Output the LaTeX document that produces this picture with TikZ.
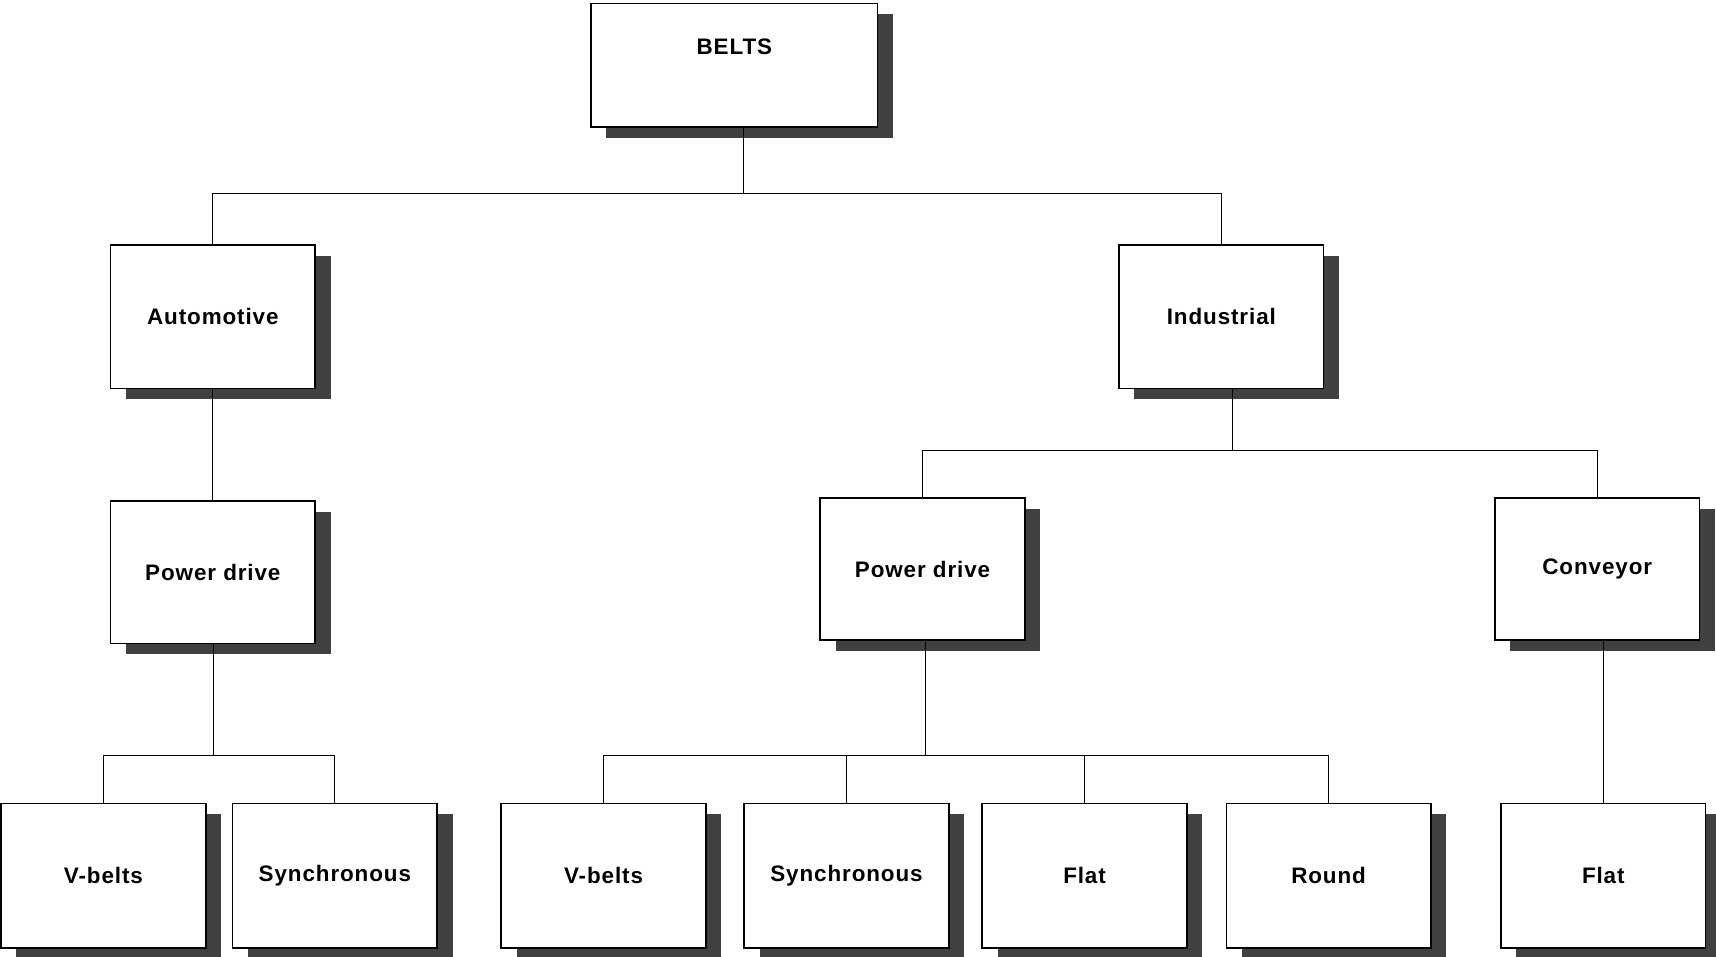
\documentclass[tikz,border=0pt]{standalone}
\usepackage{fontspec}
\setmainfont{Liberation Sans}
\usetikzlibrary{shadows}
\tikzset{
  box/.style={draw, line width=1.4pt, fill=white, minimum width=187pt, minimum height=131pt,
    font=\bfseries\fontsize{20.5}{24}\selectfont\addfontfeature{LetterSpace=4},
    drop shadow={shadow xshift=14pt, shadow yshift=-10pt, fill=black!75, opacity=1}},
  link/.style={line width=1pt}
}
\begin{document}
\begin{tikzpicture}[x=1pt,y=-1pt]
\useasboundingbox (0,0) rectangle (1568,874);
\node[box, minimum width=262pt, minimum height=113pt, text depth=33pt] (belts) at (671,59.5) {BELTS};
\node[box] (auto) at (194.5,289.5) {Automotive};
\node[box] (ind) at (1116,289.5) {Industrial};
\node[box, minimum height=130pt] (autoPD) at (194.5,523) {Power drive};
\node[box, minimum height=130pt] (indPD) at (843,520) {Power drive};
\node[box, minimum height=130pt] (conv) at (1459.5,520) {Conveyor};
\node[box, minimum height=132pt] (autoV) at (94.5,800) {V-belts};
\node[box, minimum height=132pt] (autoS) at (306,800) {Synchronous};
\node[box, minimum height=132pt] (indV) at (551.5,800) {V-belts};
\node[box, minimum height=132pt] (indS) at (773.5,800) {Synchronous};
\node[box, minimum height=132pt] (indF) at (991,800) {Flat};
\node[box, minimum height=132pt] (indR) at (1214,800) {Round};
\node[box, minimum height=132pt] (convF) at (1465,800) {Flat};
\coordinate (b0) at (679,177);
\coordinate (b1) at (1126,412);
\coordinate (b2) at (195,690);
\coordinate (b3) at (846,690);
\draw[link] (belts.south -| b0) -- (b0);
\draw[link] (auto.north) |- (b0) -| (ind.north);
\draw[link] (auto) -- (autoPD);
\draw[link] (autoPD.south -| b2) -- (b2);
\draw[link] (autoV.north) |- (b2) -| (autoS.north);
\draw[link] (ind.south -| b1) -- (b1);
\draw[link] (indPD.north) |- (b1) -| (conv.north);
\draw[link] (indPD.south -| b3) -- (b3);
\draw[link] (indV.north) |- (b3) -| (indR.north);
\draw[link] (indS.north) -- (indS.north |- b3);
\draw[link] (indF.north) -- (indF.north |- b3);
\draw[link] (conv.south -| convF.north) -- (convF.north);
\end{tikzpicture}
\end{document}
